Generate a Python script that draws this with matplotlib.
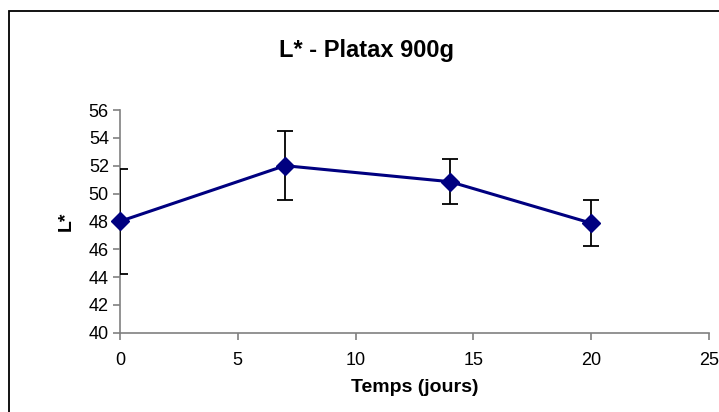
import numpy as np
import matplotlib
matplotlib.use('Agg')
import matplotlib.pyplot as plt
import matplotlib.patches as mpatch

plt.rcParams['font.family'] = ['Liberation Sans', 'DejaVu Sans']

# Lightness L* over storage time, Platax 900 g
days = [0, 7, 14, 20]
lstar = [48.0, 52.0, 50.85, 47.87]
lstar_err = [3.76, 2.5, 1.63, 1.65]

fig = plt.figure(figsize=(7.19, 4.12), dpi=100)
ax = fig.add_axes([0.1669, 0.1925, 0.8192, 0.5405])

ax.errorbar(days, lstar, yerr=lstar_err, fmt='none', ecolor='black',
            elinewidth=1.3, capsize=5.5, capthick=1.3, zorder=3)
ax.plot(days, lstar, color='#000080', lw=2.2, marker='D', ms=9.5,
        mfc='#000080', mec='#000080', zorder=4, clip_on=False)

ax.set_xlim(0, 25)
ax.set_ylim(40, 56)
ax.set_xticks(np.arange(0, 26, 5))
ax.set_yticks(np.arange(40, 57, 2))

for side in ['top', 'right']:
    ax.spines[side].set_visible(False)
for side in ['left', 'bottom']:
    ax.spines[side].set_color('#808080')
    ax.spines[side].set_linewidth(1.2)
    ax.spines[side].set_zorder(1)
ax.tick_params(axis='both', direction='out', length=5, width=1.2,
               color='#808080', labelsize=13, labelcolor='black')
ax.tick_params(axis='x', pad=9)
ax.tick_params(axis='y', pad=3)

ax.set_xlabel('Temps (jours)', fontsize=14, fontweight='bold', labelpad=7)
ax.set_ylabel('L*', fontsize=14, fontweight='bold', labelpad=10)
fig.text(0.51, 0.878, 'L* - Platax 900g', ha='center', va='center',
         fontsize=17, fontweight='bold')

# chart area border (runs off the right and bottom of the image)
fig.patches.append(mpatch.Rectangle((9 / 719, -0.1), 1.2, 0.1 + 1 - 11.5 / 412,
                                    transform=fig.transFigure, fill=False,
                                    edgecolor='black', lw=1.3))

fig.savefig('out.png', dpi=100)
